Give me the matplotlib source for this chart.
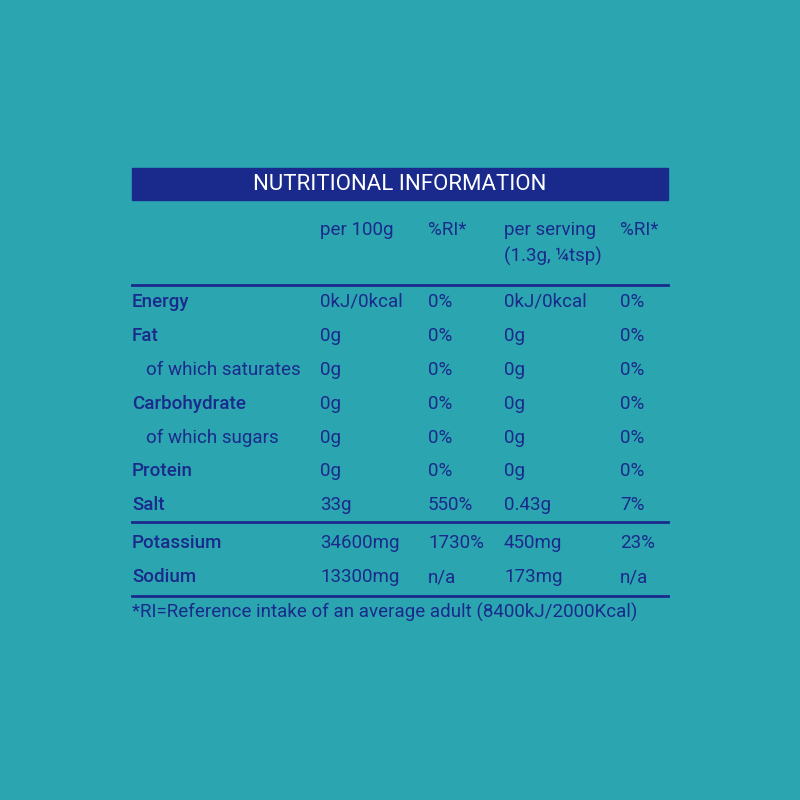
import matplotlib
matplotlib.use("Agg")
import matplotlib.pyplot as plt

bg = "#2ba6b0"
navy = "#1a2a8c"

plt.rcParams['font.family'] = ['Roboto', 'DejaVu Sans']

headers = ["per 100g", "%RI*", "per serving\n(1.3g, ¼tsp)", "%RI*"]
nutrients = ["Energy", "Fat", "of which saturates", "Carbohydrate",
             "of which sugars", "Protein", "Salt", "Potassium", "Sodium"]
indent = [False, False, True, False, True, False, False, False, False]
per100 = ["0kJ/0kcal", "0g", "0g", "0g", "0g", "0g", "33g", "34600mg", "13300mg"]
ri100 = ["0%", "0%", "0%", "0%", "0%", "0%", "550%", "1730%", "n/a"]
perserv = ["0kJ/0kcal", "0g", "0g", "0g", "0g", "0g", "0.43g", "450mg", "173mg"]
riserv = ["0%", "0%", "0%", "0%", "0%", "0%", "7%", "23%", "n/a"]
footnote = "*RI=Reference intake of an average adult (8400kJ/2000Kcal)"

fig = plt.figure(figsize=(8, 8), dpi=100, facecolor=bg)
ax = fig.add_axes([0, 0, 1, 1])
ax.set_xlim(0, 800)
ax.set_ylim(800, 0)
ax.axis("off")
ax.set_facecolor(bg)

ax.add_patch(plt.Rectangle((132, 168), 536, 32, color=navy))
ax.text(400, 185, "NUTRITIONAL INFORMATION", color="white", fontsize=16,
        ha="center", va="center")

cols = [132, 320, 428, 504, 620]
fs = 13.5
for x, h in zip(cols[1:], headers):
    ax.text(x, 221, h, color=navy, fontsize=fs, va="top", linespacing=1.55)

row_y = [302, 336, 370, 404, 438, 471, 505, 543, 577]
for i, y in enumerate(row_y):
    lab_x = cols[0] + (14 if indent[i] else 0)
    ax.text(lab_x, y, nutrients[i], color=navy, fontsize=fs, va="center",
            fontweight="normal" if indent[i] else "medium")
    for x, v in zip(cols[1:], [per100[i], ri100[i], perserv[i], riserv[i]]):
        ax.text(x, y, v, color=navy, fontsize=fs, va="center")

for y in [285, 522, 596]:
    ax.plot([132, 668], [y, y], color=navy, lw=2)

ax.text(132, 612, footnote, color=navy, fontsize=fs, va="center")

fig.savefig("out.png", dpi=100, facecolor=bg)
